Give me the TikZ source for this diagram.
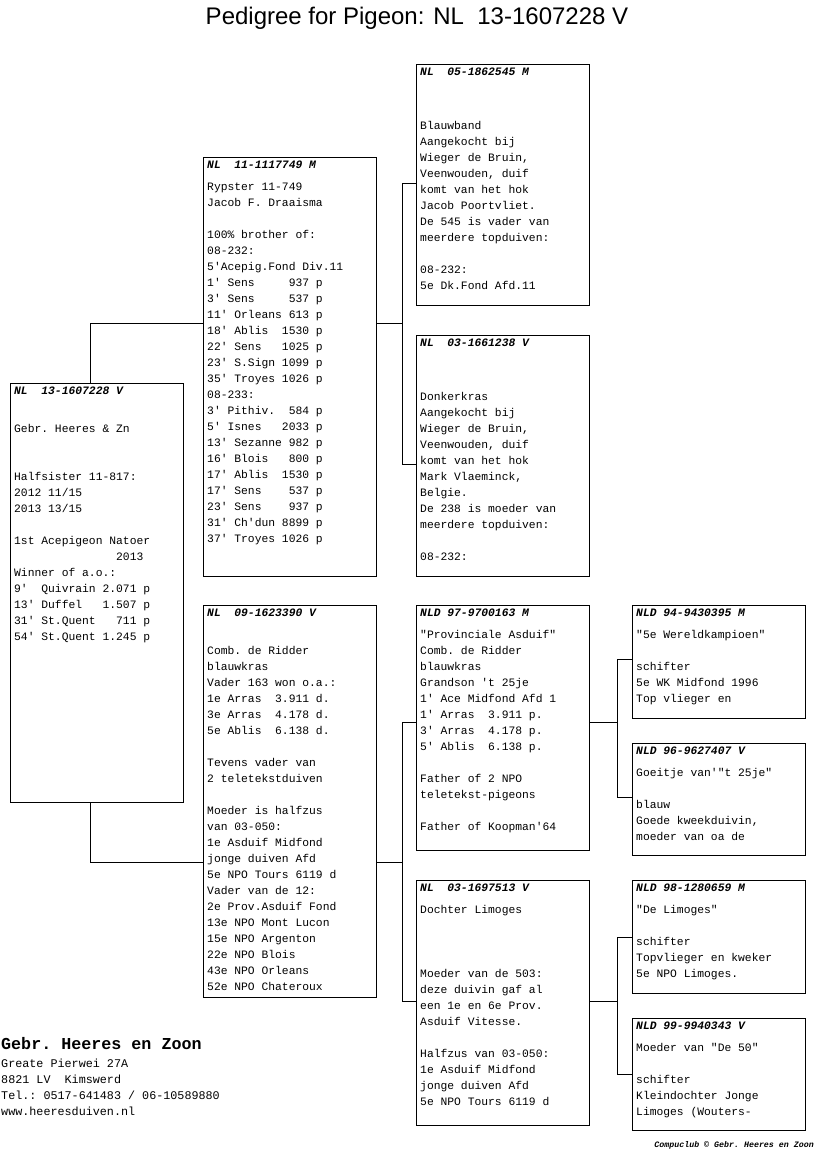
\documentclass[tikz,border=0pt]{standalone}
\usepackage{fontspec}
\setmainfont{Liberation Sans}
\setmonofont{Liberation Mono}
\newcommand{\ringno}[1]{{\bfseries\itshape #1}\\[6pt]}

\begin{document}
\begin{tikzpicture}[x=1pt,y=-1pt,
  card/.style={draw, line width=1pt, anchor=north west, inner sep=0pt, minimum width=173pt},
  cardtext/.style={anchor=north west, inner xsep=4pt, inner ysep=4pt, align=left,
    font=\ttfamily\fontsize{11.33}{16}\selectfont},
  link/.style={line width=1pt}]
  \useasboundingbox (0,0) rectangle (816,1172);
  \node[font=\fontsize{24}{28}\selectfont] (title) at (417,18) {Pedigree for Pigeon: NL~~13-1607228 V};

  \node[card, minimum height=419pt] (A) at (10,383) {};
  \node[card, minimum height=419pt] (B) at (203,157) {};
  \node[card, minimum height=392pt] (E) at (203,605) {};
  \node[card, minimum height=241pt] (C) at (416,64) {};
  \node[card, minimum height=241pt] (D) at (416,335) {};
  \node[card, minimum height=245pt] (F) at (416,605) {};
  \node[card, minimum height=245pt] (G) at (416,880) {};
  \node[card, minimum height=113pt] (H) at (632,605) {};
  \node[card, minimum height=112pt] (I) at (632,743) {};
  \node[card, minimum height=113pt] (J) at (632,880) {};
  \node[card, minimum height=112pt] (K) at (632,1018) {};

  \node[cardtext] (At) at (A.north west) {\ringno{NL~~13-1607228 V}
    ~\\ Gebr. Heeres \& Zn\\ ~\\ ~\\ Halfsister 11-817:\\ 2012 11/15\\ 2013 13/15\\ ~\\
    1st Acepigeon Natoer\\ ~~~~~~~~~~~~~~~2013\\ Winner of a.o.:\\ 9'~~Quivrain 2.071 p\\
    13' Duffel~~~1.507 p\\ 31' St.Quent~~~711 p\\ 54' St.Quent 1.245 p};
  \node[cardtext] (Bt) at (B.north west) {\ringno{NL~~11-1117749 M}
    Rypster 11-749\\ Jacob F. Draaisma\\ ~\\ 100\% brother of:\\ 08-232:\\ 5'Acepig.Fond Div.11\\
    1' Sens~~~~~937 p\\ 3' Sens~~~~~537 p\\ 11' Orleans 613 p\\ 18' Ablis~~1530 p\\
    22' Sens~~~1025 p\\ 23' S.Sign 1099 p\\ 35' Troyes 1026 p\\ 08-233:\\
    3' Pithiv.~~584 p\\ 5' Isnes~~~2033 p\\ 13' Sezanne 982 p\\ 16' Blois~~~800 p\\
    17' Ablis~~1530 p\\ 17' Sens~~~~537 p\\ 23' Sens~~~~937 p\\ 31' Ch'dun 8899 p\\
    37' Troyes 1026 p};
  \node[cardtext] (Et) at (E.north west) {\ringno{NL~~09-1623390 V}
    ~\\ Comb. de Ridder\\ blauwkras\\ Vader 163 won o.a.:\\ 1e Arras~~3.911 d.\\
    3e Arras~~4.178 d.\\ 5e Ablis~~6.138 d.\\ ~\\ Tevens vader van\\ 2 teletekstduiven\\ ~\\
    Moeder is halfzus\\ van 03-050:\\ 1e Asduif Midfond\\ jonge duiven Afd\\
    5e NPO Tours 6119 d\\ Vader van de 12:\\ 2e Prov.Asduif Fond\\ 13e NPO Mont Lucon\\
    15e NPO Argenton\\ 22e NPO Blois\\ 43e NPO Orleans\\ 52e NPO Chateroux};
  \node[cardtext] (Ct) at (C.north west) {\ringno{NL~~05-1862545 M}
    ~\\ ~\\ Blauwband\\ Aangekocht bij\\ Wieger de Bruin,\\ Veenwouden, duif\\
    komt van het hok\\ Jacob Poortvliet.\\ De 545 is vader van\\ meerdere topduiven:\\ ~\\
    08-232:\\ 5e Dk.Fond Afd.11};
  \node[cardtext] (Dt) at (D.north west) {\ringno{NL~~03-1661238 V}
    ~\\ ~\\ Donkerkras\\ Aangekocht bij\\ Wieger de Bruin,\\ Veenwouden, duif\\
    komt van het hok\\ Mark Vlaeminck,\\ Belgie.\\ De 238 is moeder van\\
    meerdere topduiven:\\ ~\\ 08-232:};
  \node[cardtext] (Ft) at (F.north west) {\ringno{NLD 97-9700163 M}
    "Provinciale Asduif"\\ Comb. de Ridder\\ blauwkras\\ Grandson 't 25je\\
    1' Ace Midfond Afd 1\\ 1' Arras~~3.911 p.\\ 3' Arras~~4.178 p.\\ 5' Ablis~~6.138 p.\\ ~\\
    Father of 2 NPO\\ teletekst-pigeons\\ ~\\ Father of Koopman'64};
  \node[cardtext] (Gt) at (G.north west) {\ringno{NL~~03-1697513 V}
    Dochter Limoges\\ ~\\ ~\\ ~\\ Moeder van de 503:\\ deze duivin gaf al\\
    een 1e en 6e Prov.\\ Asduif Vitesse.\\ ~\\ Halfzus van 03-050:\\ 1e Asduif Midfond\\
    jonge duiven Afd\\ 5e NPO Tours 6119 d};
  \node[cardtext] (Ht) at (H.north west) {\ringno{NLD 94-9430395 M}
    "5e Wereldkampioen"\\ ~\\ schifter\\ 5e WK Midfond 1996\\ Top vlieger en};
  \node[cardtext] (It) at (I.north west) {\ringno{NLD 96-9627407 V}
    Goeitje van'"t 25je"\\ ~\\ blauw\\ Goede kweekduivin,\\ moeder van oa de};
  \node[cardtext] (Jt) at (J.north west) {\ringno{NLD 98-1280659 M}
    "De Limoges"\\ ~\\ schifter\\ Topvlieger en kweker\\ 5e NPO Limoges.};
  \node[cardtext] (Kt) at (K.north west) {\ringno{NLD 99-9940343 V}
    Moeder van "De 50"\\ ~\\ schifter\\ Kleindochter Jonge\\ Limoges (Wouters-};

  \draw[link] ([xshift=-6.5pt]A.north) |- ([yshift=43.5pt]B.west);
  \draw[link] ([xshift=-6.5pt]A.south) |- ([yshift=-61pt]E.west);
  \draw[link] ([yshift=43.5pt]B.east) -- ++(25,0) coordinate (bj) |- ([yshift=1.5pt]C.west);
  \draw[link] (bj) |- ([yshift=-8.5pt]D.west);
  \draw[link] ([yshift=-61pt]E.east) -- ++(25,0) coordinate (ej) |- ([yshift=5.5pt]F.west);
  \draw[link] (ej) |- ([yshift=1.5pt]G.west);
  \draw[link] ([yshift=5.5pt]F.east) -- ++(27,0) coordinate (fj) |- ([yshift=2.5pt]H.west);
  \draw[link] (fj) |- ([yshift=2pt]I.west);
  \draw[link] ([yshift=1.5pt]G.east) -- ++(27,0) coordinate (gj) |- (J.west);
  \draw[link] (gj) |- (K.west);

  \node[anchor=west, inner sep=1pt, font=\ttfamily\bfseries\fontsize{16.7}{20}\selectfont] (firm) at (0,1044) {Gebr. Heeres en Zoon};
  \node[anchor=north west, inner sep=1pt, align=left, font=\ttfamily\fontsize{11.75}{16}\selectfont] (addr) at (0,1058)
    {Greate Pierwei 27A\\ 8821 LV~~Kimswerd\\ Tel.: 0517-641483 / 06-10589880\\ www.heeresduiven.nl};
  \node[anchor=east, inner sep=1pt, font=\ttfamily\bfseries\itshape\fontsize{8.3}{9}\selectfont] (credit) at (815,1145) {Compuclub © Gebr. Heeres en Zoon};
\end{tikzpicture}
\end{document}
